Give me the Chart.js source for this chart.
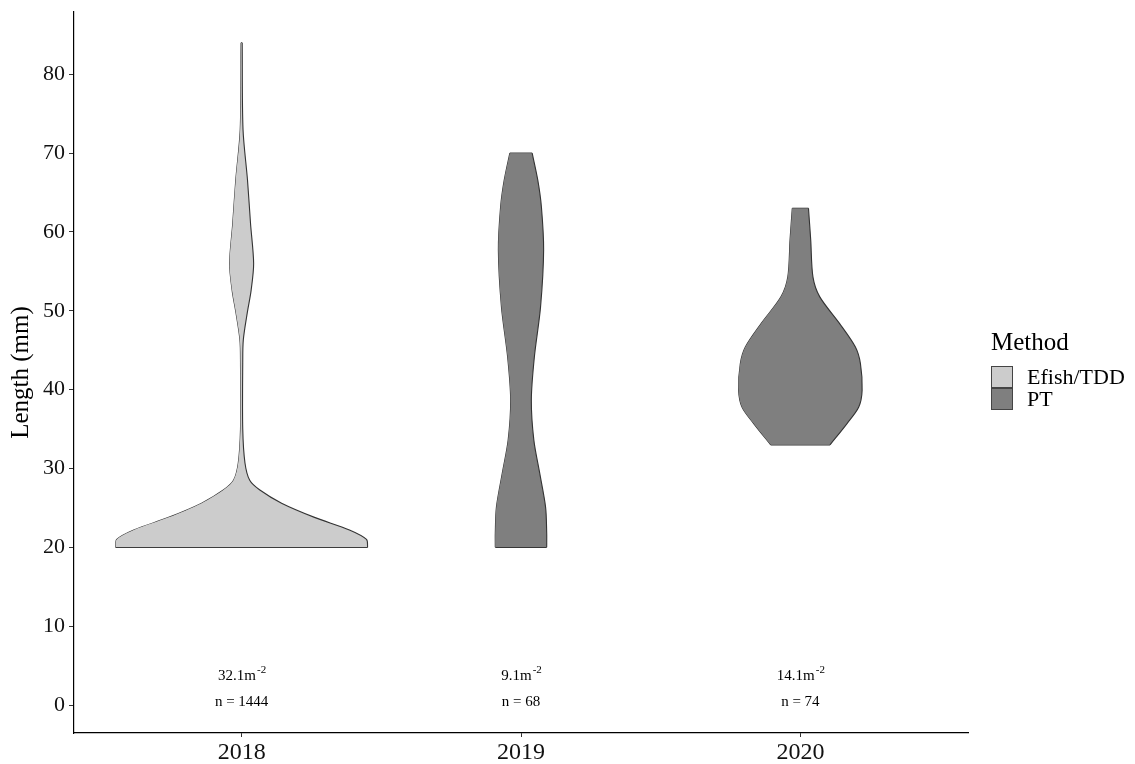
<!DOCTYPE html>
<html>
<head>
<meta charset="utf-8">
<script src="https://cdn.jsdelivr.net/npm/chart.js@4.4.0/dist/chart.umd.min.js"></script>
<style>
  html, body { margin: 0; padding: 0; background: #fff; }
  #wrap { position: relative; width: 1135px; height: 764px; }
  #legend { position: absolute; left: 991px; top: 329px; font-family: "Liberation Serif", "Times New Roman", serif; color: #000; }
  #legend .title { font-size: 25px; line-height: 26px; height: 37px; }
  #legend .item { height: 22px; line-height: 22px; font-size: 22px; white-space: nowrap; }
  #legend .key { display: inline-block; width: 22px; height: 22px; box-sizing: border-box; border: 1px solid #444; vertical-align: top; margin-right: 14px; }
</style>
</head>
<body>
<div id="wrap">
  <canvas id="violinChart"></canvas>
  <div id="legend"></div>
</div>
<script>
const years = ['2018', '2019', '2020'];
const yTicks = [0, 10, 20, 30, 40, 50, 60, 70, 80];
const methodOfYear = ['Efish/TDD', 'PT', 'PT'];
const legendLabels = ['Efish/TDD', 'PT'];
const legendColors = ['#cccccc', '#7f7f7f'];
const densityLabels = ['32.1', '9.1', '14.1'];
const countLabels = ['n = 1444', 'n = 68', 'n = 74'];

// violin outlines: length (mm) and half width (x-axis category units)
const len2018 = [20, 21, 22.2, 23.8, 25.6, 27.3, 28.5, 30.7, 35, 43.4, 46.3, 49.7, 52.6, 56, 61, 66.6, 73, 84];
const hw2018  = [0.451, 0.447, 0.386, 0.261, 0.143, 0.064, 0.029, 0.012, 0.004, 0.004, 0.006, 0.020, 0.034, 0.043, 0.032, 0.021, 0.005, 0.002];
const len2019 = [20, 21.8, 25.1, 29.4, 33.6, 38.7, 44.2, 50.5, 57.7, 63.2, 66.6, 70];
const hw2019  = [0.092, 0.092, 0.088, 0.067, 0.046, 0.037, 0.048, 0.070, 0.081, 0.073, 0.060, 0.040];
const len2020 = [33, 35.7, 37.8, 39.9, 43.3, 45.4, 48.4, 51.8, 54.3, 59, 63];
const hw2020  = [0.106, 0.167, 0.209, 0.221, 0.215, 0.197, 0.140, 0.069, 0.045, 0.037, 0.029];

const violins = [
  { len: len2018, hw: hw2018 },
  { len: len2019, hw: hw2019 },
  { len: len2020, hw: hw2020 }
];

const serif = '"Liberation Serif", "Times New Roman", serif';
const edge = '#333333';
const fillFor = m => legendColors[legendLabels.indexOf(m)];

// each violin = right side (filled to the next dataset) + left side, both curves run up the length axis
const datasets = [];
violins.forEach((v, i) => {
  const c = i + 1;
  datasets.push({
    label: years[i] + ' right',
    data: v.len.map((l, k) => ({ x: c + v.hw[k], y: l })),
    borderColor: edge, borderWidth: 1.1, pointRadius: 0, tension: 0.3,
    backgroundColor: fillFor(methodOfYear[i]), fill: '+1'
  });
  datasets.push({
    label: years[i] + ' left',
    data: v.len.map((l, k) => ({ x: c - v.hw[k], y: l })),
    borderColor: edge, borderWidth: 1.1, pointRadius: 0, tension: 0.3, fill: false
  });
});
// flat ends (bottom and top) of each violin
violins.forEach((v, i) => {
  const c = i + 1, n = v.len.length - 1;
  [0, n].forEach(k => datasets.push({
    label: years[i] + ' end',
    data: [{ x: c - v.hw[k], y: v.len[k] }, { x: c + v.hw[k], y: v.len[k] }],
    borderColor: edge, borderWidth: 1.2, pointRadius: 0, tension: 0, fill: false
  }));
});

// n and density labels under each violin
const textPlugin = {
  id: 'violinText',
  afterDatasetsDraw(chart) {
    const { ctx, scales: { x, y } } = chart;
    ctx.save();
    ctx.fillStyle = '#000';
    years.forEach((yr, i) => {
      const cx = x.getPixelForValue(i + 1);
      const base = densityLabels[i] + 'm';
      ctx.font = '15px ' + serif;
      const w1 = ctx.measureText(base).width;
      ctx.font = '11px ' + serif;
      const w2 = ctx.measureText('-2').width;
      const x0 = cx - (w1 + w2) / 2;
      const by = y.getPixelForValue(3.2);
      ctx.textAlign = 'left';
      ctx.textBaseline = 'alphabetic';
      ctx.font = '15px ' + serif;
      ctx.fillText(base, x0, by);
      ctx.font = '11px ' + serif;
      ctx.fillText('-2', x0 + w1 + 1, by - 7);
      ctx.font = '15px ' + serif;
      ctx.textAlign = 'center';
      ctx.textBaseline = 'middle';
      ctx.fillText(countLabels[i], cx, y.getPixelForValue(0.4));
    });
    ctx.restore();
  }
};

const canvas = document.getElementById('violinChart');
canvas.width = 1135;
canvas.height = 764;

new Chart(canvas.getContext('2d'), {
  type: 'line',
  data: { datasets },
  options: {
    indexAxis: 'y',
    responsive: false,
    animation: false,
    layout: { padding: { top: 12, right: 167, left: 0, bottom: 0 } },
    plugins: { legend: { display: false }, tooltip: { enabled: false } },
    scales: {
      x: {
        type: 'linear',
        min: 0.4,
        max: 3.6,
        afterBuildTicks: s => { s.ticks = years.map((_, i) => ({ value: i + 1 })); },
        afterFit: s => { s.height = 31; },
        border: { display: true, color: '#000', width: 1.2 },
        grid: { drawOnChartArea: false, drawTicks: true, tickLength: 4, color: '#333' },
        ticks: { color: '#111', padding: 1, maxRotation: 0, font: { family: serif, size: 24 }, callback: v => years[v - 1] }
      },
      y: {
        type: 'linear',
        min: -3.55,
        max: 87.9,
        afterBuildTicks: s => { s.ticks = yTicks.map(v => ({ value: v })); },
        afterFit: s => { s.width = 74; s.paddingTop = 0; s.paddingBottom = 0; },
        border: { display: true, color: '#000', width: 1.2 },
        grid: { drawOnChartArea: false, drawTicks: true, tickLength: 5, color: '#333' },
        ticks: { color: '#111', padding: 4, font: { family: serif, size: 22 } },
        title: { display: true, text: 'Length (mm)', color: '#000', font: { family: serif, size: 25 }, padding: { top: 6, bottom: 0 } }
      }
    }
  },
  plugins: [textPlugin]
});

// legend
const legendEl = document.getElementById('legend');
legendEl.innerHTML = '<div class="title">Method</div>' + legendLabels.map((l, i) =>
  `<div class="item"><span class="key" style="background:${legendColors[i]}"></span>${l}</div>`).join('');
</script>
</body>
</html>
